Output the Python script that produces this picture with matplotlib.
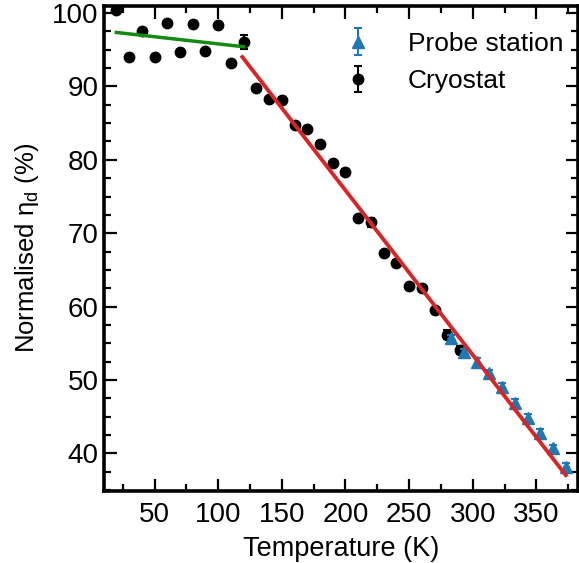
import numpy as np
import matplotlib
matplotlib.use("Agg")
import matplotlib.pyplot as plt
from matplotlib.ticker import MultipleLocator

plt.rcParams['font.family'] = ['Liberation Sans', 'DejaVu Sans']
plt.rcParams['mathtext.fontset'] = 'custom'
plt.rcParams['mathtext.rm'] = 'Liberation Sans'
plt.rcParams['mathtext.it'] = 'Liberation Sans:italic'

# cryostat data
cryo_T = [20, 30, 40, 50, 60, 70, 80, 90, 100, 110, 120, 130, 140, 150,
          160, 170, 180, 190, 200, 210, 220, 230, 240, 250, 260, 270, 280, 290]
cryo_eta = [100.45, 94.0, 97.5, 93.95, 98.6, 94.7, 98.5, 94.85, 98.35, 93.2,
            96.05, 89.8, 88.3, 88.2, 84.8, 84.2, 82.2, 79.5, 78.4, 72.05,
            71.5, 67.3, 66.0, 62.8, 62.6, 59.5, 56.2, 54.1]
cryo_err = [0.3, 0.3, 0.3, 0.3, 0.3, 0.3, 0.3, 0.3, 0.3, 0.3,
            1.0, 0.3, 0.3, 0.3, 0.3, 0.3, 0.3, 0.3, 0.3, 0.3,
            0.6, 0.3, 0.3, 0.3, 0.3, 0.3, 0.6, 0.6]

# probe station data
probe_T = [283, 293, 303, 313, 323, 333, 343, 353, 363, 373]
probe_eta = [55.7, 53.8, 52.5, 50.9, 49.1, 46.9, 44.85, 42.8, 40.7, 38.2]
probe_err = [0.5, 0.5, 0.5, 0.5, 0.5, 0.5, 0.5, 0.5, 0.5, 0.5]

# linear fits (end points)
low_fit_T = [20, 120]
low_fit_eta = [97.35, 95.4]
high_fit_T = [119, 373]
high_fit_eta = [94.0, 37.05]

fig = plt.figure(figsize=(5.79, 5.63), dpi=100)
ax = fig.add_axes([0.18, 0.128, 0.818, 0.862])

ax.errorbar(probe_T, probe_eta, yerr=probe_err, fmt='^', color='#1f77b4',
            markersize=8, capsize=3, elinewidth=1.5, capthick=1.5,
            label='Probe station', zorder=3)
ax.errorbar(cryo_T, cryo_eta, yerr=cryo_err, fmt='o', color='black',
            markersize=7.5, capsize=3, elinewidth=1.5, capthick=1.5,
            label='Cryostat', zorder=2)
ax.plot(low_fit_T, low_fit_eta, color='#138a13', lw=2.5, zorder=4)
ax.plot(high_fit_T, high_fit_eta, color='#d62728', lw=2.8, zorder=4)

ax.set_xlim(10.5, 382.5)
ax.set_ylim(34.9, 101.0)
ax.xaxis.set_major_locator(MultipleLocator(50))
ax.xaxis.set_minor_locator(MultipleLocator(25))
ax.yaxis.set_major_locator(MultipleLocator(10))
ax.yaxis.set_minor_locator(MultipleLocator(2.5))
ax.tick_params(which='both', direction='in', top=True, right=True,
               width=1.6, labelsize=20)
ax.tick_params(which='major', length=9)
ax.tick_params(axis='y', which='major', pad=4)
ax.tick_params(axis='x', which='major', pad=8)
ax.tick_params(which='minor', length=5)
for s in ax.spines.values():
    s.set_linewidth(2.6)

ax.set_xlabel('Temperature (K)', fontsize=19.5, labelpad=6)
ax.set_ylabel(r'Normalised η$_\mathrm{d}$ (%)', fontsize=18.5, labelpad=8)

ax.legend(loc='upper right', frameon=False, fontsize=19,
          handletextpad=0.9, labelspacing=0.5,
          bbox_to_anchor=(1.02, 0.995))

fig.savefig('out.png', dpi=100)
